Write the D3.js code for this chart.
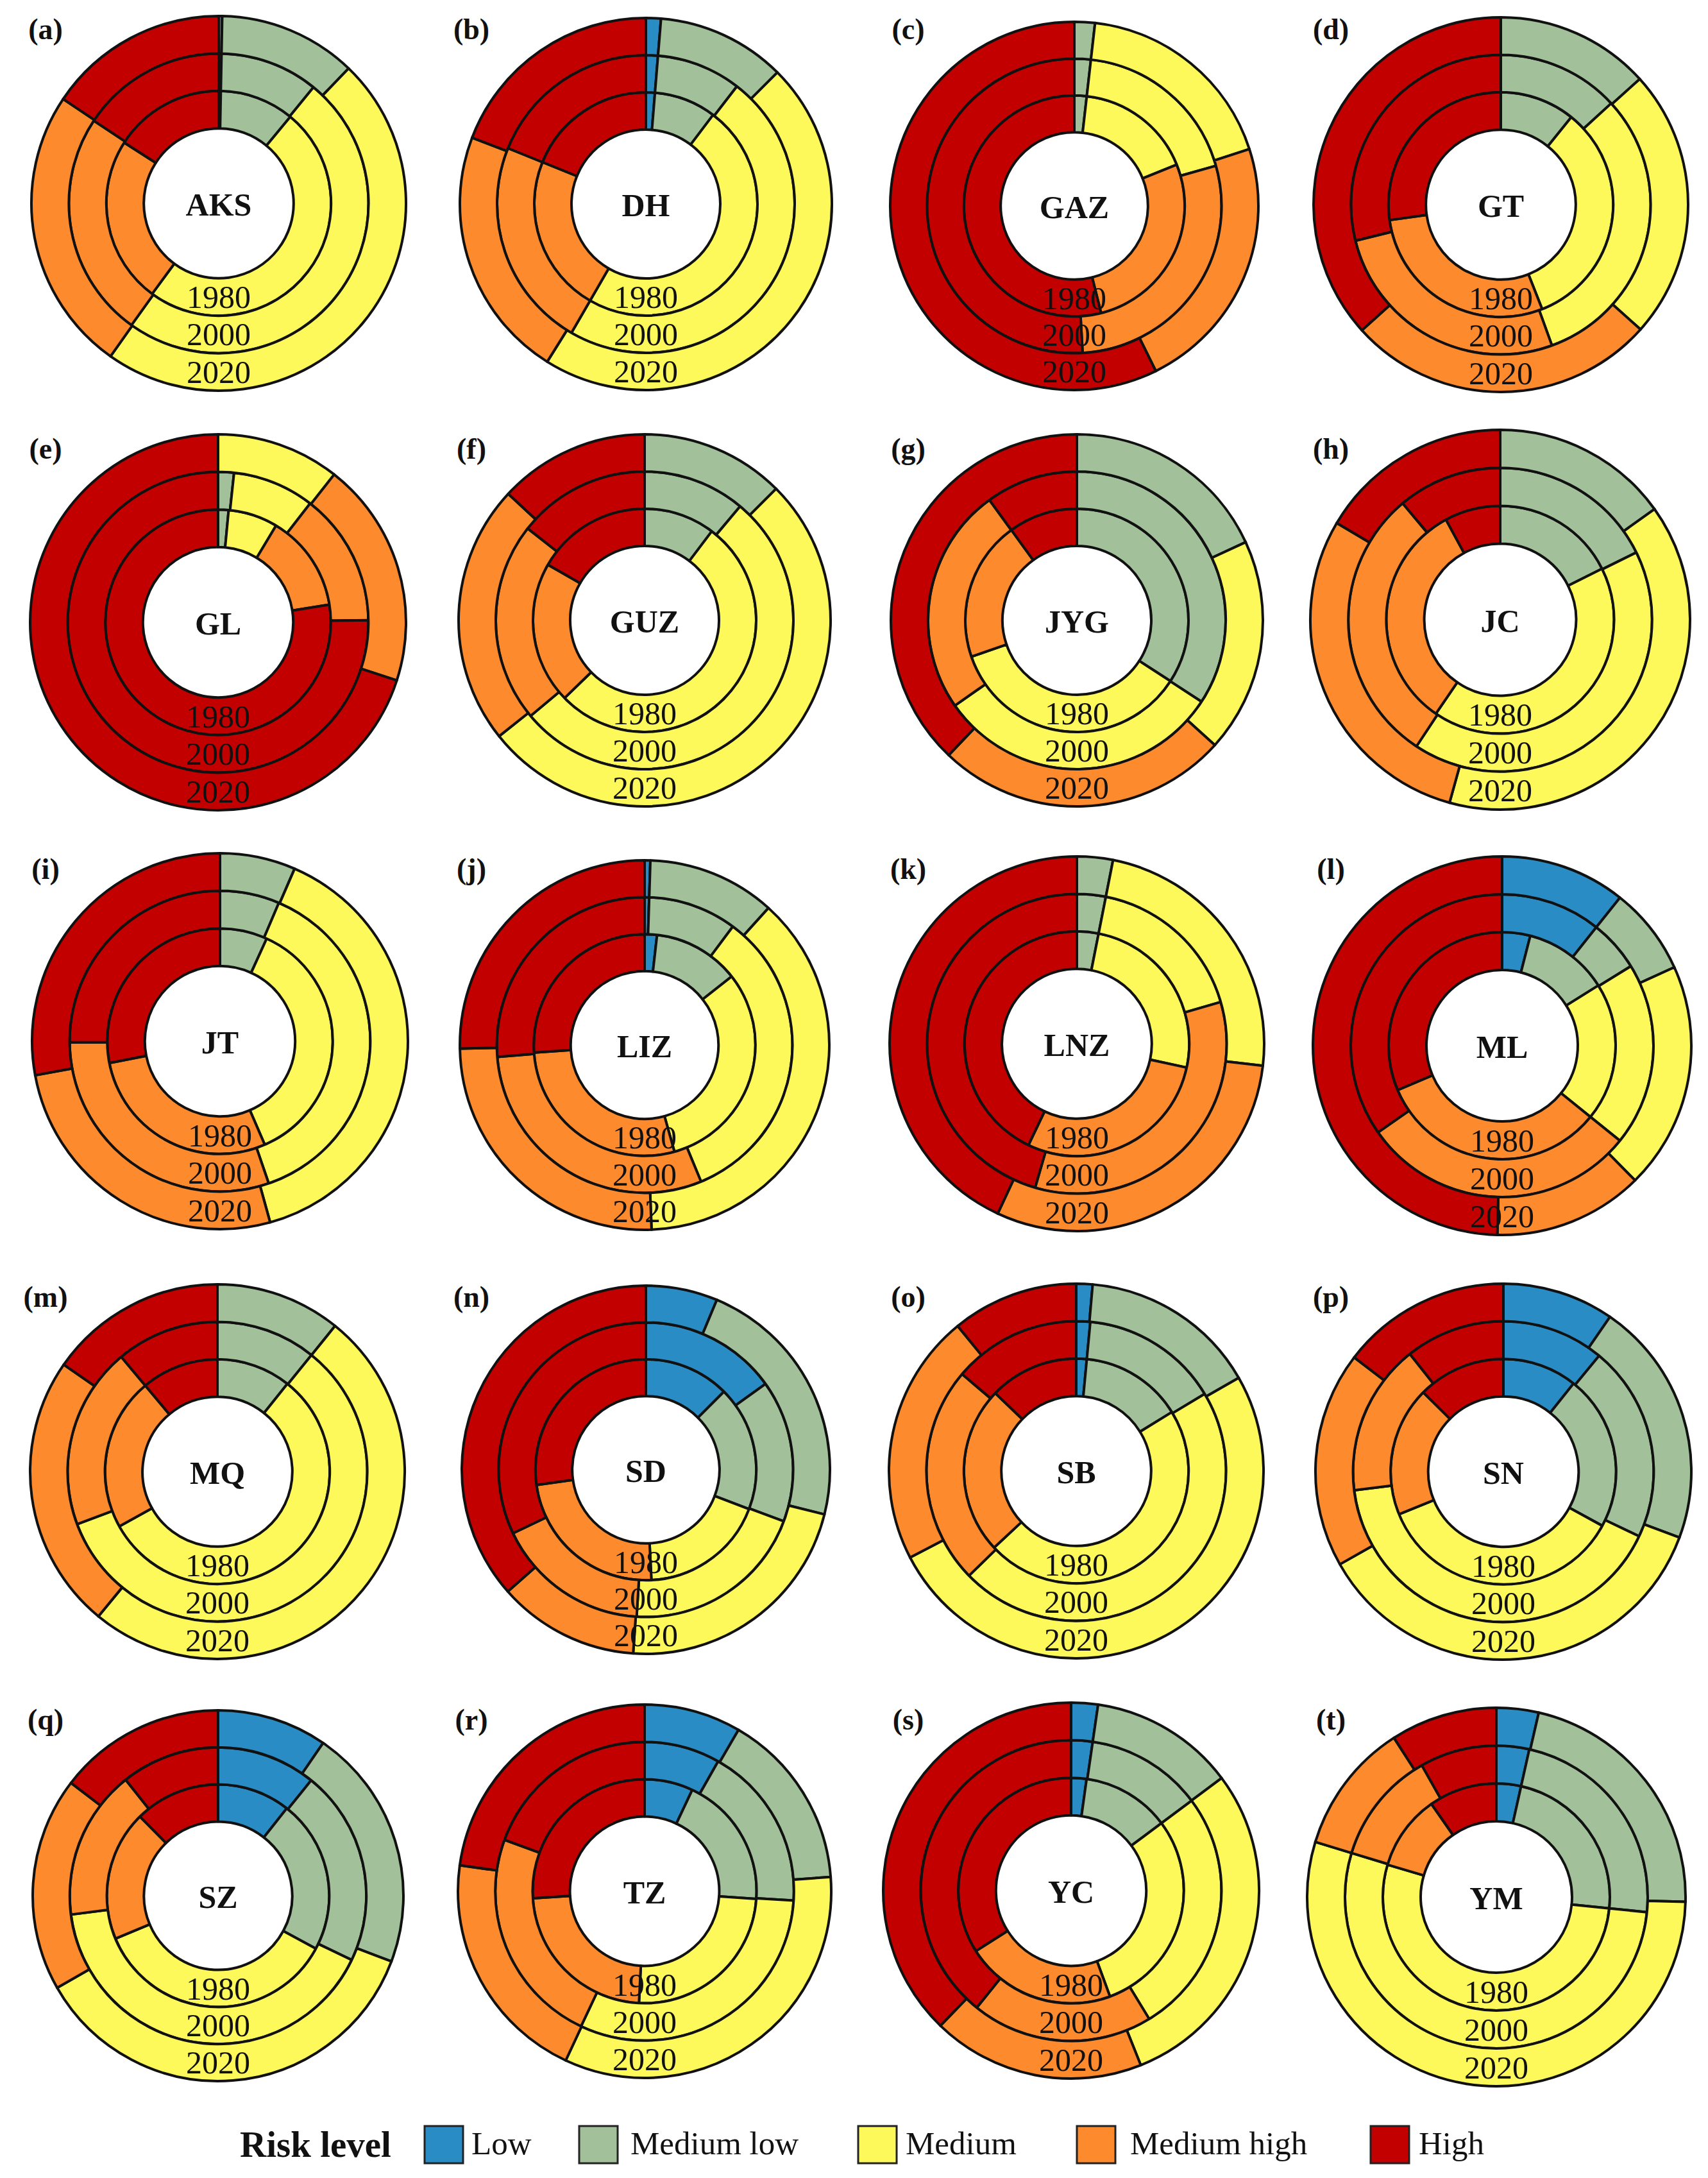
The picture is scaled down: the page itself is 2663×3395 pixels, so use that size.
<!DOCTYPE HTML>
<html>
  <head>
  <title>Risk level rings</title>
  <script src="https://d3js.org/d3.v7.min.js" charset="utf-8"></script>
  <style>
  body{
    margin: 0;
    background: white;
    font-family: "Liberation Serif", "Times New Roman", serif;
  }
  svg{
    display: block;
  }
  </style>
  </head>
  <body>
  <script>

    var regions=["AKS","DH","GAZ","GT","GL","GUZ","JYG","JC","JT","LIZ","LNZ","ML","MQ","SD","SB","SN","SZ","TZ","YC","YM"];
    var panelTags=["(a)","(b)","(c)","(d)","(e)","(f)","(g)","(h)","(i)","(j)","(k)","(l)","(m)","(n)","(o)","(p)","(q)","(r)","(s)","(t)"];
    var years=["1980","2000","2020"];
    var levels=["Low","Medium low","Medium","Medium high","High"];

    // share of each risk level in percent (low -> high)
    var shares1980=[
      [0.3,10.7,49.1,24.0,15.9],[1.3,9.0,48.1,22.8,18.9],[0,1.8,17.1,27.2,53.9],[0,10.8,33.2,28.8,27.2],
      [0,1.5,7.1,13.9,77.5],[0,10.3,52.5,20.6,16.7],[0,34.2,35.6,20.3,10.0],[0,17.6,41.9,32.5,7.9],
      [0,6.8,36.7,28.4,28.1],[1.8,12.6,31.3,28.3,26.1],[0,3.1,25.3,28.7,42.9],[4.0,12.1,19.7,32.8,31.4],
      [0,10.7,56.2,22.0,11.1],[12.5,18.3,18.4,23.6,27.2],[1.5,14.7,46.8,24.1,12.8],[10.7,22.3,35.9,18.6,12.6],
      [10.6,22.3,35.8,18.9,12.4],[7.0,19.1,24.7,23.2,26.0],[2.2,12.6,29.6,21.6,34.0],[3.5,23.1,53.0,10.7,9.7]
    ];
    var shares2000=[
      [0.3,10.6,49.0,24.4,15.7],[1.3,9.2,47.9,22.8,18.9],[0,1.8,18.8,28.5,50.9],[0,13.2,31.3,26.7,28.9],
      [0,1.7,8.8,14.3,75.3],[0,11.1,52.8,21.7,14.4],[0,34.2,31.1,24.7,10.0],[0,17.7,41.6,29.6,11.1],
      [0,6.4,38.3,30.1,25.1],[0.5,9.7,33.6,30.0,26.3],[0,3.1,17.4,34.0,45.5],[10.7,5.5,19.6,29.5,34.7],
      [0,10.8,58.5,19.6,11.1],[15.1,15.6,20.3,16.9,32.1],[1.5,14.9,46.3,23.5,13.8],[11.0,21.1,41.0,16.3,10.7],
      [10.8,21.3,40.8,16.3,10.7],[8.2,17.8,31.0,23.6,19.4],[2.3,12.5,26.5,19.5,39.2],[3.5,23.1,53.1,12.1,8.2]
    ];
    var shares2020=[
      [0.3,11.9,47.6,24.6,15.6],[1.3,11.2,46.4,21.9,19.2],[0,1.8,18.2,22.7,57.3],[0,13.3,23.3,26.7,36.7],
      [0,0,10.6,19.4,70.0],[0,12.5,51.8,22.6,13.1],[0,18.1,18.6,25.4,37.9],[0,15.1,39.2,29.2,16.5],
      [0,6.5,39.2,26.4,27.9],[0.5,11.2,37.7,25.3,25.3],[0,3.1,23.8,30.1,43.1],[10.7,7.5,19.4,12.8,49.6],
      [0,10.8,50.1,23.7,15.3],[6.3,22.6,22.2,12.4,36.5],[1.4,15.3,50.6,21.7,10.9],[9.6,21.1,36.1,18.6,14.6],
      [9.6,21.2,36.0,18.7,14.6],[8.4,15.4,33.2,20.3,22.8],[2.3,12.5,29.2,18.3,37.8],[3.6,21.8,54.3,11.2,9.1]
    ];

    // layout, the panels of the figure are not on an exact grid
    var panelX=[341,1007,1675,2340, 340,1005,1679,2339, 343,1005,1679,2342, 339,1007,1678,2344, 340,1005,1670,2333];
    var panelY=[317,318,321,319, 970,967,967,966, 1623,1629,1627,1630, 2294,2291,2293,2294, 2955,2948,2947,2957];
    var panelR=[292,290,287,292, 293,290,290,296, 293,288,292,295, 292,287,292,293, 289,291,293,295];
    var tagX=[71,735,1416,2075];
    var tagY=[45,699,1354,2021,2680];
    var swatchX=[662,903,1338,1679,2137];
    var legendX=[735,983,1412,1762,2212];

    var colors=["#2A8CC4","#A2C09A","#FDF95A","#FD8B2E","#C20000"];

    var height=3395;
    var width=2663;

    var color=d3.scaleOrdinal().domain(levels).range(colors);
    var pie=d3.pie().sort(null).value(function(d){return d;});

    var svg=d3.select("body")
    .append("svg")
    .attr("width", width)
    .attr("height", height);

    var panels=svg.selectAll("g.panel")
    .data(regions)
    .enter()
    .append("g")
    .attr("class","panel")
    .attr("transform", function(d,i){return "translate("+panelX[i]+","+panelY[i]+")";});

    panels.each(function(region,i){
      var g=d3.select(this);
      var R=panelR[i];
      // hole is 0.4 of the radius, each ring takes 0.2
      var ringScale=d3.scaleLinear().domain([0,3]).range([0.4*R,R]);
      var rings=[shares1980[i],shares2000[i],shares2020[i]];

      rings.forEach(function(values,k){
        var arc=d3.arc().innerRadius(ringScale(k)).outerRadius(ringScale(k+1));
        g.append("g").selectAll("path")
        .data(pie(values).filter(function(d){return d.value>0;}))
        .enter()
        .append("path")
        .attr("d", arc)
        .attr("fill", function(d){return color(levels[d.index]);})
        .attr("stroke", "#111")
        .attr("stroke-width", 4)
        .attr("stroke-linejoin", "round");
      });

      g.selectAll("text.year")
      .data(years)
      .enter()
      .append("text")
      .attr("class","year")
      .attr("y", function(d,k){return ringScale(k+0.5);})
      .attr("text-anchor","middle")
      .attr("dominant-baseline","central")
      .attr("font-size",50)
      .attr("fill","#111")
      .text(function(d){return d;});

      g.append("text")
      .attr("y",2)
      .attr("text-anchor","middle")
      .attr("dominant-baseline","central")
      .attr("font-size",50)
      .attr("font-weight","bold")
      .attr("fill","#111")
      .text(region);
    });

    svg.selectAll("text.tag")
    .data(panelTags)
    .enter()
    .append("text")
    .attr("class","tag")
    .attr("x", function(d,i){return tagX[i%4];})
    .attr("y", function(d,i){return tagY[Math.floor(i/4)];})
    .attr("text-anchor","middle")
    .attr("dominant-baseline","central")
    .attr("font-size",46)
    .attr("font-weight","bold")
    .attr("fill","#111")
    .text(function(d){return d;});

    svg.append("text")
    .attr("x",374)
    .attr("y",3362)
    .attr("font-size",57)
    .attr("font-weight","bold")
    .attr("fill","#111")
    .text("Risk level");

    svg.selectAll("rect.swatch")
    .data(levels)
    .enter()
    .append("rect")
    .attr("class","swatch")
    .attr("x", function(d,i){return swatchX[i];})
    .attr("y",3314)
    .attr("width",60)
    .attr("height",58)
    .attr("fill", function(d){return color(d);})
    .attr("stroke","#222")
    .attr("stroke-width",3);

    svg.selectAll("text.level")
    .data(levels)
    .enter()
    .append("text")
    .attr("class","level")
    .attr("x", function(d,i){return legendX[i];})
    .attr("y",3358)
    .attr("font-size",51)
    .attr("fill","#111")
    .text(function(d){return d;});

  </script>
  </body>
</html>
